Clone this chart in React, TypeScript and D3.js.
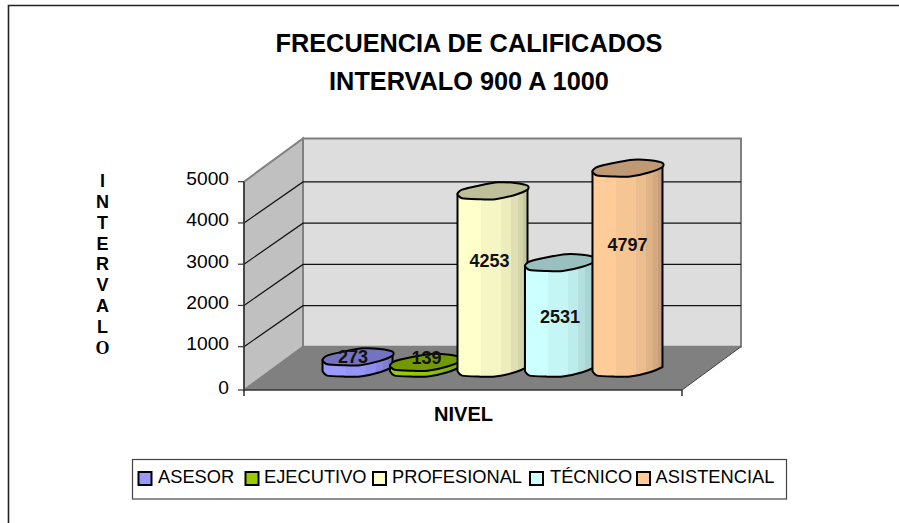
import React from "react";
import * as d3 from "d3";

const categories = ["ASESOR", "EJECUTIVO", "PROFESIONAL", "TÉCNICO", "ASISTENCIAL"];
const values = [273, 139, 4253, 2531, 4797];
const labelLevels = [264, 240, 2566, 1230, 2950];
const labelShift = [-4.5, 1.5, -3, 0, 0];
const colors = ["#9999FF", "#99CC00", "#FFFFCC", "#CCFFFF", "#FFCC99"];
const ticks = [0, 1000, 2000, 3000, 4000, 5000];
const titleLines = ["FRECUENCIA DE CALIFICADOS", "INTERVALO 900 A 1000"];
const axisLetters = ["I", "N", "T", "E", "R", "V", "A", "L", "O"];
const legendSwatchX = [138.5, 245.5, 373, 530, 637];
const legendTextX = [158, 264, 392, 550, 655.5];

const ARIAL = "'Liberation Sans', Arial, sans-serif";
const WIDTH = 899, HEIGHT = 523;
const front = { left: 244, right: 682 };
const depth = { dx: 59, dy: -43.3, gridDy: -41 };

const yFront = d3.scaleLinear().domain([0, 1000, 5000]).range([390, 346.7, 181.7]);
const yMid = d3.scaleLinear().domain([0, 5000]).range([368, 159.5]);
const xBand = d3.scaleBand<string>().domain(categories)
  .range([front.left + depth.dx / 2, front.right + depth.dx / 2]).paddingInner(0).paddingOuter(0.745);
const barHalf = 35;

// outline of a wobbly sheared ellipse: [u in -1..1, dy px]
const upper: [number, number][] = [[-1, 3.3], [-0.87, -1], [-0.4, -5], [0.17, -8.3], [0.64, -7.7], [1, -5]];
const lower: [number, number][] = [[1, -1], [0.64, 4.3], [0.08, 8.6], [-0.4, 8.6], [-0.87, 7.6], [-1, 3.3]];
const bands = [0, 0.33, 0.62, 0.76, 0.86, 0.94, 1];
const shades = [1, 0.965, 0.925, 0.875, 0.83, 0.78];

const shade = (c: string, k: number) => {
  const r = d3.rgb(c);
  return d3.rgb(r.r * k, r.g * k, r.b * k).formatHex();
};

const closed = d3.line<[number, number]>().curve(d3.curveCardinalClosed.tension(0.3));
const open = d3.line<[number, number]>().curve(d3.curveCardinal.tension(0.3));

function Bar({ i }: { i: number }) {
  const name = categories[i];
  const cx = xBand(name)! + xBand.bandwidth() / 2;
  const top = yMid(values[i]);
  const base = yMid(0);
  const pt = (u: number, dy: number, cy: number): [number, number] => [cx + u * barHalf, cy + dy];
  const topPts = [...upper, ...lower.slice(0, -1)].map(([u, d]) => pt(u, d, top));
  const basePts = [...lower].reverse().map(([u, d]) => pt(u, d, base));
  const tr = pt(1, -1, top), tl = pt(-1, 3.3, top);
  const body = `${open(basePts)}L${tr[0]},${tr[1]}L${tl[0]},${tl[1]}Z`;
  return (
    <g>
      <path d={body} fill={`url(#g${i})`} stroke="#000" strokeWidth={2} strokeLinejoin="round" />
      <path d={closed(topPts)!} fill={shade(colors[i], 0.75)} stroke="#000" strokeWidth={2} strokeLinejoin="round" />
    </g>
  );
}

export default function App() {
  const wall = "#808080";
  const backX = front.left + depth.dx;
  const backRight = front.right + depth.dx;
  return (
    <svg width={WIDTH} height={HEIGHT} style={{ position: "absolute", left: 0, top: 0, background: "#fff" }}>
      <defs>
        {colors.map((c, i) => (
          <linearGradient id={`g${i}`} key={c} x1="0" x2="1" y1="0" y2="0">
            {shades.flatMap((k, j) => [
              <stop key={`${j}a`} offset={bands[j]} stopColor={shade(c, k)} />,
              <stop key={`${j}b`} offset={bands[j + 1]} stopColor={shade(c, k)} />,
            ])}
          </linearGradient>
        ))}
      </defs>

      <path d={`M8.5,${HEIGHT}V5.5H${WIDTH}`} fill="none" stroke="#222" strokeWidth={1.6} />

      {titleLines.map((t, i) => (
        <text key={t} x={469} y={51.7 + i * 37.8} textAnchor="middle" fontFamily={ARIAL} fontWeight="bold" fontSize={25.3} fill="#000">{t}</text>
      ))}

      {/* walls */}
      <polygon
        points={`${backX},${yFront(5000) + depth.dy} ${backRight},${yFront(5000) + depth.dy} ${backRight},${yFront(0) + depth.dy} ${backX},${yFront(0) + depth.dy}`}
        fill="#DDDDDD" stroke={wall} strokeWidth={2}
      />
      <polygon
        points={`${front.left},${yFront(5000)} ${backX},${yFront(5000) + depth.dy} ${backX},${yFront(0) + depth.dy} ${front.left},${yFront(0)}`}
        fill="#C0C0C0" stroke={wall} strokeWidth={2}
      />
      <polygon
        points={`${front.left},${yFront(0)} ${front.right},${yFront(0)} ${backRight},${yFront(0) + depth.dy} ${backX},${yFront(0) + depth.dy}`}
        fill="#808080"
      />

      {/* gridlines */}
      {ticks.filter(t => t > 0 && t < 5000).map(t => (
        <path key={t} d={`M${front.left},${yFront(t)}L${backX},${yFront(t) + depth.gridDy}H${backRight}`}
          fill="none" stroke="#111" strokeWidth={1.2} />
      ))}

      {/* axes */}
      <path d={`M${front.left},${yFront(5000)}V${yFront(0) + 6}M${front.left},${yFront(0)}H${front.right}V${yFront(0) + 6}`} fill="none" stroke="#333" strokeWidth={1.5} />
      <path d={`M${front.right},${yFront(0)}L${backRight},${yFront(0) + depth.dy}`} fill="none" stroke="#444" strokeWidth={1} />
      {ticks.map(t => (
        <g key={t}>
          <line x1={front.left - 6} x2={front.left} y1={yFront(t)} y2={yFront(t)} stroke="#333" strokeWidth={1.2} />
          <text x={229} y={yFront(t) + 3.5} textAnchor="end" fontFamily={ARIAL} fontSize={19.2} fill="#000">{t}</text>
        </g>
      ))}

      {categories.map((_, i) => <Bar key={i} i={i} />)}

      {categories.map((c, i) => (
        <text key={c} x={xBand(c)! + xBand.bandwidth() / 2 + labelShift[i]} y={yMid(labelLevels[i]) + 6.5} textAnchor="middle"
          fontFamily={ARIAL} fontWeight="bold" fontSize={18} fill="#111">{values[i]}</text>
      ))}

      {/* axis titles */}
      {axisLetters.map((l, i) => (
        <text key={i} x={102.5} y={187.2 + i * 20.8} textAnchor="middle"
          fontFamily={l === "O" ? "'Liberation Serif', serif" : ARIAL} fontWeight="bold" fontSize={18} fill="#000">{l}</text>
      ))}
      <text x={463.5} y={421} textAnchor="middle" fontFamily={ARIAL} fontWeight="bold" fontSize={20} fill="#000">NIVEL</text>

      {/* legend */}
      <rect x={132.5} y={459.5} width={654} height={39.5} fill="#fff" stroke="#444" strokeWidth={1.2} />
      {categories.map((c, i) => (
        <g key={c}>
          <rect x={legendSwatchX[i]} y={472} width={13} height={13} fill={colors[i]} stroke="#000" strokeWidth={2} />
          <text x={legendTextX[i]} y={482.5} fontFamily={ARIAL} fontSize={18.3} fill="#000">{c}</text>
        </g>
      ))}
    </svg>
  );
}
